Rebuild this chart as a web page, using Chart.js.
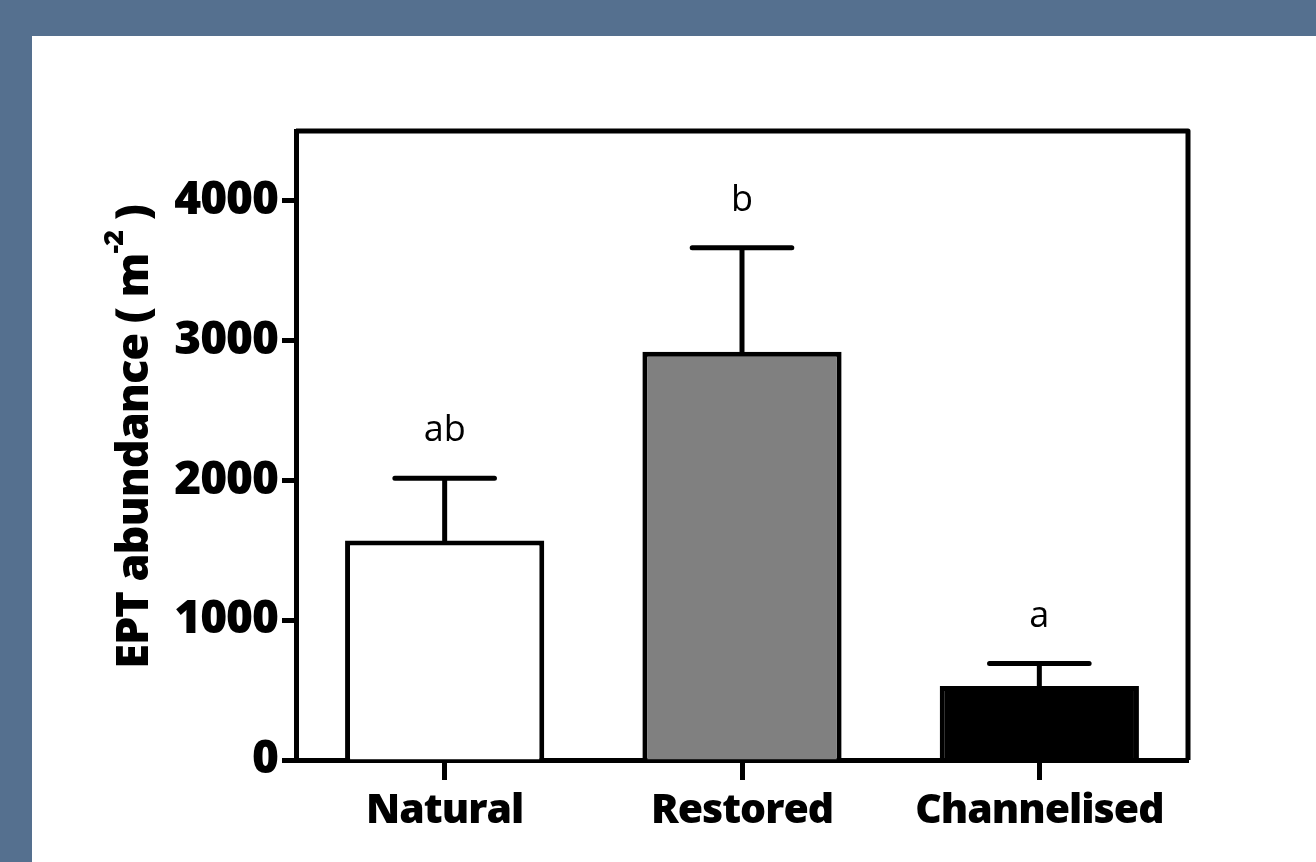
<!DOCTYPE html>
<html>
<head>
<meta charset="utf-8">
<script src="https://cdn.jsdelivr.net/npm/chart.js@4.4.1/dist/chart.umd.min.js"></script>
<style>
    html, body { margin: 0; padding: 0; background: #55708f; }
    #wrap { width: 1316px; height: 862px; }
</style>
</head>
<body>
<div id="wrap"><canvas id="chart" width="1316" height="862"></canvas></div>
<script>
/* ==================== DATA ==================== */
const categories = ['Natural', 'Restored', 'Channelised'];
const meanValues = [1570, 2920, 530];
const semValues = [445, 745, 160];
const groupLetters = ['ab', 'b', 'a'];
const barColors = ['#ffffff', '#808080', '#000000'];
const yTicks = [0, 1000, 2000, 3000, 4000];

const FAMILY = '"Open Sans", sans-serif';
const TITLE_FONT = '800 45px ' + FAMILY;
const SUP_FONT = '800 27px ' + FAMILY;

/* ==================== PLUGINS ==================== */
const panelPlugin = {
    id: 'panel',
    beforeDraw(chart) {
        const ctx = chart.ctx;
        ctx.save();
        ctx.fillStyle = '#55708f';
        ctx.fillRect(0, 0, chart.width, chart.height);
        ctx.fillStyle = '#ffffff';
        ctx.fillRect(32, 36, chart.width - 32, chart.height - 36);
        ctx.restore();
        // tighter spacing for the heavy labels
        ctx.letterSpacing = '-1px';
    }
};

const decorPlugin = {
    id: 'decor',
    afterDatasetsDraw(chart) {
        const ctx = chart.ctx;
        const y = chart.scales.y;
        const meta = chart.getDatasetMeta(0);
        ctx.save();
        ctx.letterSpacing = '0px';
        ctx.strokeStyle = '#000';
        ctx.lineWidth = 5;
        ctx.lineCap = 'round';
        meta.data.forEach((bar, i) => {
            const cx = bar.x;
            const yTop = y.getPixelForValue(meanValues[i]);
            const yErr = y.getPixelForValue(meanValues[i] + semValues[i]);
            const half = bar.width / 4;
            ctx.beginPath();
            ctx.moveTo(cx, yTop);
            ctx.lineTo(cx, yErr);
            ctx.moveTo(cx - half, yErr);
            ctx.lineTo(cx + half, yErr);
            ctx.stroke();
            // significance letters
            ctx.fillStyle = '#000';
            ctx.font = '36px ' + FAMILY;
            ctx.textAlign = 'center';
            ctx.textBaseline = 'alphabetic';
            ctx.fillText(groupLetters[i], cx, yErr - 37);
        });
        ctx.restore();
    },
    afterDraw(chart) {
        const ctx = chart.ctx;
        const a = chart.chartArea;
        ctx.save();
        // top and right frame
        ctx.strokeStyle = '#000';
        ctx.lineWidth = 5;
        ctx.lineJoin = 'round';
        ctx.beginPath();
        ctx.moveTo(a.left, a.top);
        ctx.lineTo(a.right, a.top);
        ctx.lineTo(a.right, a.bottom);
        ctx.stroke();

        // y axis title with superscript
        const main = 'EPT abundance ( m';
        const sup = '-2';
        const tail = ' )';
        ctx.letterSpacing = '-1px';
        ctx.font = TITLE_FONT;
        const wMain = ctx.measureText(main).width;
        const wTail = ctx.measureText(tail).width;
        ctx.font = SUP_FONT;
        const wSup = ctx.measureText(sup).width;
        const total = wMain + wSup + wTail;
        ctx.translate(148, 437);
        ctx.rotate(-Math.PI / 2);
        ctx.fillStyle = '#000';
        ctx.textAlign = 'left';
        ctx.textBaseline = 'alphabetic';
        let pos = -total / 2;
        ctx.font = TITLE_FONT;
        ctx.fillText(main, pos, 0);
        pos += wMain;
        ctx.font = SUP_FONT;
        ctx.fillText(sup, pos, -25);
        pos += wSup;
        ctx.font = TITLE_FONT;
        ctx.fillText(tail, pos, 0);
        ctx.restore();
    }
};

/* ==================== CHART ==================== */
Chart.defaults.devicePixelRatio = 1;

new Chart(document.getElementById('chart'), {
    type: 'bar',
    data: {
        labels: categories,
        datasets: [{
            data: meanValues,
            backgroundColor: barColors,
            borderColor: '#000',
            borderWidth: 5,
            borderSkipped: 'bottom',
            barPercentage: 0.67,
            categoryPercentage: 1.0
        }]
    },
    options: {
        responsive: false,
        animation: false,
        layout: { padding: { top: 131, right: 128, left: 0, bottom: 0 } },
        plugins: {
            legend: { display: false },
            tooltip: { enabled: false }
        },
        scales: {
            x: {
                grid: {
                    display: true,
                    drawOnChartArea: false,
                    drawTicks: true,
                    tickLength: 20,
                    tickWidth: 5,
                    tickColor: '#000',
                    offset: false
                },
                border: { display: true, color: '#000', width: 5 },
                ticks: { color: '#000', font: { family: FAMILY, size: 41, weight: 800 }, padding: 7 },
                afterFit: (s) => { s.height = 102; }
            },
            y: {
                min: 0,
                max: 4500,
                grid: {
                    display: true,
                    drawOnChartArea: false,
                    drawTicks: true,
                    tickLength: 14,
                    tickWidth: 5,
                    tickColor: '#000'
                },
                border: { display: true, color: '#000', width: 5 },
                ticks: {
                    stepSize: 1000,
                    color: '#000',
                    font: { family: FAMILY, size: 46, weight: 800 },
                    padding: 4,
                    callback: (v) => String(v)
                },
                afterBuildTicks: (s) => { s.ticks = yTicks.map((v) => ({ value: v })); },
                afterFit: (s) => { s.width = 296; }
            }
        }
    },
    plugins: [panelPlugin, decorPlugin]
});
</script>
</body>
</html>
